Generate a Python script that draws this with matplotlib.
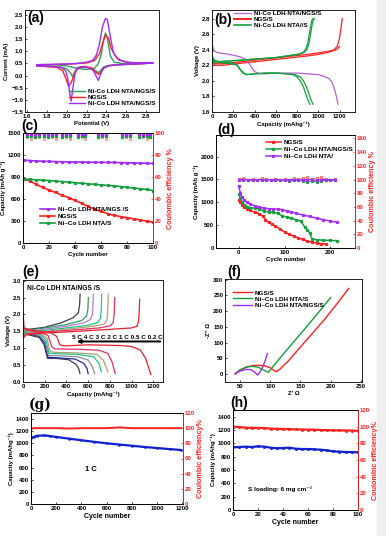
import matplotlib
matplotlib.use("Agg")
import matplotlib.pyplot as plt
from matplotlib.patches import Rectangle

plt.rcParams['font.family'] = ['Liberation Sans', 'DejaVu Sans']
plt.rcParams['font.weight'] = 'bold'
plt.rcParams['axes.labelweight'] = 'bold'
plt.rcParams['font.size'] = 4.3
plt.rcParams['axes.linewidth'] = 0.6
plt.rcParams['xtick.direction'] = 'in'
plt.rcParams['ytick.direction'] = 'in'
plt.rcParams['xtick.major.size'] = 1.6
plt.rcParams['ytick.major.size'] = 1.6
plt.rcParams['xtick.major.width'] = 0.5
plt.rcParams['ytick.major.width'] = 0.5
plt.rcParams['xtick.major.pad'] = 1.5
plt.rcParams['ytick.major.pad'] = 1.2
plt.rcParams['axes.labelpad'] = 1.5

PURPLE = '#a02cff'
RED = '#ff2020'
GREEN = '#14a03c'

# ---- (a) CV curves
cv_purple_v = [1.70, 1.80, 1.90, 2.00, 2.10, 2.20, 2.26, 2.30, 2.33, 2.36, 2.39, 2.41, 2.44, 2.47, 2.52, 2.60, 2.70, 2.80, 2.87,
               2.80, 2.70, 2.60, 2.50, 2.42, 2.37, 2.34, 2.32, 2.30, 2.27, 2.22, 2.15, 2.10, 2.08, 2.06, 2.045, 2.03, 2.01, 1.99, 1.95, 1.90, 1.80, 1.70]
cv_purple_i = [0.45, 0.46, 0.47, 0.48, 0.50, 0.55, 0.62, 0.85, 1.30, 2.00, 2.35, 2.30, 1.60, 0.95, 0.65, 0.55, 0.52, 0.52, 0.53,
               0.50, 0.48, 0.46, 0.44, 0.40, 0.30, 0.05, -0.20, -0.05, 0.20, 0.32, 0.36, 0.30, 0.00, -0.60, -1.05, -0.70, -0.10, 0.20, 0.33, 0.36, 0.38, 0.40]
cv_red_v = [1.70, 1.80, 1.90, 2.00, 2.10, 2.20, 2.28, 2.33, 2.36, 2.39, 2.42, 2.45, 2.50, 2.55, 2.62, 2.70, 2.80, 2.87,
            2.80, 2.70, 2.60, 2.50, 2.42, 2.37, 2.34, 2.32, 2.29, 2.25, 2.18, 2.12, 2.08, 2.05, 2.02, 1.99, 1.96, 1.90, 1.80, 1.70]
cv_red_i = [0.42, 0.44, 0.46, 0.47, 0.49, 0.52, 0.62, 0.90, 1.30, 1.65, 1.55, 1.10, 0.75, 0.62, 0.55, 0.52, 0.52, 0.53,
            0.50, 0.48, 0.46, 0.45, 0.40, 0.30, 0.12, 0.05, 0.15, 0.32, 0.38, 0.34, 0.10, -0.25, -0.45, -0.10, 0.20, 0.34, 0.37, 0.40]
cv_green_v = [1.70, 1.80, 1.90, 2.00, 2.05, 2.10, 2.20, 2.28, 2.32, 2.35, 2.37, 2.39, 2.41, 2.44, 2.48, 2.55, 2.70, 2.80, 2.87,
              2.80, 2.70, 2.60, 2.50, 2.42, 2.37, 2.34, 2.32, 2.29, 2.25, 2.18, 2.12, 2.08, 2.06, 2.04, 2.00, 1.95, 1.90, 1.80, 1.70]
cv_green_i = [0.43, 0.44, 0.44, 0.40, 0.35, 0.30, 0.25, 0.30, 0.50, 0.90, 1.45, 1.75, 1.55, 0.80, 0.55, 0.50, 0.50, 0.51, 0.52,
              0.50, 0.48, 0.46, 0.44, 0.42, 0.35, 0.20, 0.12, 0.20, 0.30, 0.36, 0.32, 0.15, -0.05, 0.10, 0.28, 0.34, 0.36, 0.38, 0.40]

# ---- (b) charge / discharge
b_purple_cap = [0, 5, 20, 60, 120, 200, 260, 300, 330, 360, 400, 450, 500, 600, 700, 800, 900, 1000, 1050, 1100, 1130, 1150, 1170, 1185]
b_purple_v = [2.72, 2.45, 2.38, 2.36, 2.35, 2.33, 2.31, 2.29, 2.26, 2.20, 2.12, 2.09, 2.09, 2.10, 2.10, 2.10, 2.09, 2.08, 2.06, 2.03, 1.98, 1.90, 1.80, 1.70]
b_green_dis1_cap = [0, 5, 30, 100, 180, 230, 260, 290, 320, 400, 500, 600, 700, 760, 800, 830, 860, 880, 900, 920]
b_green_dis1_v = [2.50, 2.30, 2.26, 2.24, 2.23, 2.21, 2.15, 2.10, 2.08, 2.09, 2.10, 2.10, 2.09, 2.08, 2.05, 2.00, 1.92, 1.84, 1.76, 1.70]
b_green_dis2_cap = [0, 5, 30, 100, 180, 240, 270, 300, 330, 400, 500, 600, 700, 780, 830, 860, 890, 910, 930, 950]
b_green_dis2_v = [2.45, 2.28, 2.25, 2.23, 2.22, 2.20, 2.14, 2.10, 2.08, 2.09, 2.10, 2.10, 2.09, 2.08, 2.05, 2.00, 1.92, 1.84, 1.76, 1.70]
b_green_ch_cap = [0, 20, 100, 200, 300, 400, 500, 600, 700, 800, 850, 880, 900, 915, 930, 940, 950]
b_green_ch_v = [2.22, 2.24, 2.25, 2.26, 2.27, 2.28, 2.29, 2.30, 2.32, 2.34, 2.36, 2.40, 2.48, 2.60, 2.72, 2.78, 2.80]
b_red1_cap = [0, 30, 100, 300, 500, 700, 900, 1000, 1100, 1150, 1180, 1200, 1210, 1220, 1225]
b_red1_v = [2.30, 2.22, 2.22, 2.25, 2.28, 2.31, 2.34, 2.36, 2.38, 2.40, 2.45, 2.55, 2.65, 2.75, 2.80]
b_red2_cap = [0, 30, 100, 300, 500, 700, 900, 1000, 1100, 1170, 1200]
b_red2_v = [2.24, 2.20, 2.20, 2.23, 2.26, 2.29, 2.32, 2.34, 2.37, 2.40, 2.44]

# ---- (c) cycling 0.5 C
c_cycles = [1, 5, 10, 15, 20, 25, 30, 35, 40, 45, 50, 55, 60, 65, 70, 75, 80, 85, 90, 95, 100]
c_purple = [1130, 1125, 1118, 1115, 1112, 1110, 1108, 1106, 1105, 1104, 1102, 1101, 1100, 1099, 1098, 1096, 1094, 1092, 1090, 1087, 1085]
c_green = [870, 868, 862, 858, 852, 845, 838, 830, 822, 815, 808, 800, 793, 785, 778, 770, 760, 750, 740, 730, 715]
c_red = [870, 850, 800, 760, 720, 690, 650, 620, 580, 540, 500, 460, 430, 400, 380, 360, 345, 330, 315, 300, 285]
c_ce_cycles = [3, 6, 9, 12, 16, 19, 22, 25, 30, 33, 36, 42, 45, 48, 58, 61, 64, 76, 79, 82, 89, 92, 95, 98]
c_ce_purple = [99, 99, 98, 99, 99, 98, 99, 99, 98, 99, 99, 98, 99, 99, 99, 98, 99, 99, 98, 99, 99, 98, 99, 99]
c_ce_red = [96, 95, 96, 96, 95, 96, 96, 95, 96, 96, 95, 96, 96, 95, 96, 96, 95, 96, 96, 95, 96, 96, 95, 96]
c_ce_green = [97, 97, 96, 97, 97, 96, 97, 97, 96, 97, 97, 96, 97, 97, 96, 97, 97, 96, 97, 97, 96, 97, 97, 96]

# ---- (d) rate cycling
d_cyc_purple = [0, 3, 7, 12, 18, 25, 35, 45, 55, 65, 75, 85, 95, 105, 115, 125, 140, 155, 170, 185, 200, 215]
d_cap_purple = [1360, 1200, 1110, 1050, 1000, 960, 920, 890, 870, 860, 855, 850, 840, 810, 790, 760, 720, 690, 650, 620, 590, 560]
d_cyc_green = [0, 3, 7, 12, 18, 25, 35, 45, 55, 65, 75, 85, 95, 105, 115, 125, 135, 145, 150, 155, 160, 170, 185, 200, 215]
d_cap_green = [1180, 1100, 1000, 950, 900, 880, 870, 860, 800, 790, 780, 760, 700, 680, 650, 620, 590, 450, 400, 330, 200, 180, 170, 165, 160]
d_cyc_red = [0, 3, 7, 12, 18, 25, 35, 45, 52, 58, 65, 72, 80, 90, 100, 110, 120, 130, 140, 150, 160, 170, 180, 190]
d_cap_red = [1050, 1000, 950, 900, 850, 820, 780, 750, 700, 620, 560, 520, 480, 410, 350, 300, 260, 220, 190, 150, 130, 110, 95, 90]
d_ce_cyc = [0, 10, 20, 30, 40, 50, 60, 70, 80, 90, 100, 110, 120, 130, 140, 150, 160, 170, 180, 190, 200, 210]
d_ce_red = [101, 102, 100, 101, 100, 102, 101, 100, 101, 100, 101, 100, 102, 101, 102, 103, 101, 102, 103, 101, 100, 101]
d_ce_green = [99, 100, 99, 99, 100, 99, 99, 100, 99, 99, 99, 98, 99, 99, 98, 97, 98, 97, 98, 99, 99, 99]
d_ce_purple = [100, 100, 100, 99, 100, 100, 99, 100, 100, 100, 99, 100, 100, 99, 100, 100, 100, 99, 100, 100, 100, 100]

# ---- (e) rate profiles of Ni-Co LDH NTA/NGS/S
e_rates = ['5 C', '4 C', '3 C', '2 C', '1 C', '0.5 C', '0.2 C']
e_charge_colors = ['#3c3c52', '#2e9e5e', '#b57be0', '#22c48a', '#b0a070', '#e0306a', '#e8202a']
e_dis_colors = ['#3c3c52', '#1e2f9a', '#8c8ca0', '#22c48a', '#b0a070', '#e0306a', '#e8202a']
e_dis_cap = [
    [0, 20, 150, 195, 225, 300, 420, 490, 515, 525],
    [0, 20, 150, 200, 230, 300, 480, 560, 590, 600],
    [0, 20, 150, 205, 235, 300, 500, 600, 640, 660],
    [0, 20, 150, 210, 240, 290, 500, 650, 700, 722],
    [0, 20, 150, 220, 250, 290, 500, 680, 740, 782],
    [0, 20, 150, 230, 265, 290, 500, 700, 780, 820, 850],
    [0, 10, 100, 250, 310, 340, 380, 600, 900, 1000, 1080, 1130, 1160, 1178],
]
e_dis_v = [
    [1.52, 1.42, 1.32, 1.10, 0.70, 0.70, 0.66, 0.52, 0.38, 0.25],
    [1.55, 1.45, 1.35, 1.15, 0.73, 0.72, 0.68, 0.55, 0.40, 0.25],
    [1.57, 1.48, 1.38, 1.20, 0.78, 0.78, 0.75, 0.65, 0.45, 0.25],
    [1.58, 1.50, 1.42, 1.25, 0.85, 0.84, 0.82, 0.75, 0.55, 0.30],
    [1.60, 1.52, 1.45, 1.30, 0.90, 0.88, 0.86, 0.82, 0.65, 0.30],
    [1.65, 1.55, 1.47, 1.38, 1.05, 0.98, 0.97, 0.94, 0.85, 0.60, 0.25],
    [2.10, 1.60, 1.52, 1.47, 1.35, 1.10, 1.07, 1.10, 1.08, 1.05, 0.95, 0.70, 0.40, 0.22],
]
e_ch_cap = [
    [0, 30, 200, 350, 460, 510, 522, 526],
    [0, 30, 200, 400, 540, 585, 598, 602],
    [0, 30, 200, 400, 560, 620, 640, 645, 648],
    [0, 30, 200, 400, 600, 690, 715, 722, 725],
    [0, 30, 200, 450, 650, 750, 775, 782, 786],
    [0, 30, 200, 500, 700, 800, 830, 840, 845],
    [0, 30, 200, 500, 800, 1000, 1050, 1065, 1071, 1075],
]
e_ch_v = [
    [1.37, 1.55, 1.62, 1.75, 1.90, 2.05, 2.30, 2.60],
    [1.35, 1.52, 1.60, 1.70, 1.82, 1.95, 2.15, 2.50],
    [1.33, 1.50, 1.56, 1.65, 1.75, 1.85, 2.00, 2.30, 2.60],
    [1.32, 1.47, 1.53, 1.60, 1.68, 1.76, 1.90, 2.20, 2.60],
    [1.30, 1.45, 1.50, 1.58, 1.65, 1.72, 1.85, 2.20, 2.60],
    [1.30, 1.42, 1.48, 1.55, 1.60, 1.66, 1.75, 2.00, 2.50],
    [1.30, 1.40, 1.45, 1.50, 1.56, 1.60, 1.65, 1.80, 2.10, 2.45],
]

# ---- (f) EIS
f_red_x = [42, 50, 60, 70, 80, 90, 100, 106, 110, 115, 130, 150, 170, 190, 210, 230]
f_red_y = [0, 12, 22, 27, 28, 27, 20, 12, 8, 14, 42, 86, 130, 174, 222, 272]
f_green_x = [42, 50, 60, 70, 80, 90, 97, 105, 120, 140, 160, 180, 200]
f_green_y = [2, 14, 22, 25, 22, 12, 6, 25, 60, 105, 150, 196, 243]
f_purple_x = [42, 50, 60, 68, 75, 79, 84, 88, 92, 95]
f_purple_y = [2, 10, 15, 14, 5, -3, 10, 25, 45, 65]

# ---- (g) long cycling 1 C
g_cycles = [0, 20, 50, 100, 150, 200, 300, 400, 500, 600, 700, 800, 900, 1000, 1100, 1190]
g_cap = [1085, 1105, 1125, 1130, 1120, 1105, 1078, 1050, 1025, 1000, 980, 960, 940, 922, 905, 890]
g_ce = [99, 100, 100, 100, 100, 100, 99.5, 100, 100, 100, 101, 100, 100, 100, 100, 100]

# ---- (h) high loading
h_cycles = [0, 5, 10, 15, 20, 25, 30, 35, 40, 45, 50, 55, 60, 65, 70, 75, 80, 85, 90, 95, 100]
h_cap = [940, 945, 950, 945, 955, 950, 935, 925, 930, 935, 920, 915, 915, 910, 905, 895, 880, 875, 870, 868, 865]
h_ce = [100, 99.5, 98.8, 98.6, 98.4, 98.3, 97.6, 97.5, 97.2, 97.0, 96.8, 96.6, 96.4, 96.3, 96.0, 95.8, 95.6, 95.5, 95.4, 95.3, 95.0]

W, H = 386, 536
fig = plt.figure(figsize=(W / 100, H / 100), dpi=100)
fig.patches.append(Rectangle((377 / W, 0), 9 / W, 1, transform=fig.transFigure, color='#efefef', zorder=0))


def box(x0, y0, x1, y1):
    return fig.add_axes([x0 / W, 1 - y1 / H, (x1 - x0) / W, (y1 - y0) / H])


def red_right(ax, lim, ticks, label):
    r = ax.twinx()
    r.set_ylim(*lim)
    r.set_yticks(ticks)
    r.tick_params(axis='y', colors=RED)
    r.spines['right'].set_color(RED)
    r.set_ylabel(label, color=RED, fontsize=5.2)
    return r


def panel(x, y, s, **kw):
    fig.text(x / W, 1 - y / H, s, fontsize=10, fontweight='bold', va='top', ha='left', **kw)


# (a)
ax = box(25, 10, 159, 112)
ax.plot(cv_green_v, cv_green_i, color='#2ca05a', lw=1.0, label='Ni-Co LDH NTA/NGS/S')
ax.plot(cv_red_v, cv_red_i, color=RED, lw=1.0, label='NGS/S')
ax.plot(cv_purple_v, cv_purple_i, color=PURPLE, lw=1.0, label='Ni-Co LDH NTA/NGS/S')
ax.set_xlim(1.58, 2.93)
ax.set_ylim(-1.5, 2.7)
ax.set_xticks([1.6, 1.8, 2.0, 2.2, 2.4, 2.6, 2.8])
ax.set_yticks([-1.5, -1.0, -0.5, 0.0, 0.5, 1.0, 1.5, 2.0, 2.5])
ax.set_xlabel('Potential (V)')
ax.set_ylabel('Current (mA)')
ax.legend(loc='lower right', bbox_to_anchor=(1.0, 0.02), frameon=False, fontsize=4.6,
          handlelength=2.6, labelspacing=0.1, borderaxespad=0.2, handletextpad=0.4)
panel(27, 11, '(a)')

# (b)
ax = box(212, 10, 355, 112)
ax.plot(b_red1_cap, b_red1_v, color=RED, lw=0.9)
ax.plot(b_red2_cap, b_red2_v, color=RED, lw=0.9)
ax.plot(b_purple_cap, b_purple_v, color='#b060e0', lw=0.9)
ax.plot(b_green_dis1_cap, b_green_dis1_v, color=GREEN, lw=0.9)
ax.plot(b_green_dis2_cap, b_green_dis2_v, color=GREEN, lw=0.9)
ax.plot(b_green_ch_cap, b_green_ch_v, color=GREEN, lw=0.9)
ax.plot([c + 12 for c in b_green_ch_cap], b_green_ch_v, color=GREEN, lw=0.9)
ax.plot([], [], color='#b060e0', lw=0.9, label='Ni-Co LDH NTA/NGS/S')
ax.plot([], [], color=RED, lw=1.4, label='NGS/S')
ax.plot([], [], color=GREEN, lw=1.2, label='Ni-Co LDH NTA//S')
ax.set_xlim(0, 1345)
ax.set_ylim(1.6, 2.91)
ax.set_xticks([0, 200, 400, 600, 800, 1000, 1200])
ax.set_yticks([1.6, 1.8, 2.0, 2.2, 2.4, 2.6, 2.8])
ax.set_xlabel('Capacity (mAhg⁻¹)')
ax.set_ylabel('Voltage (V)')
ax.legend(loc='upper left', bbox_to_anchor=(0.13, 1.03), frameon=False, fontsize=4.6,
          handlelength=2.6, labelspacing=0.05, borderaxespad=0.2, handletextpad=0.4)
panel(214, 13, '(b)')

# (c)
ax = box(23, 133, 153, 243)
ax.plot(c_cycles, c_purple, color=PURPLE, lw=1.2, marker='s', ms=1.3, label='Ni\u2013Co LDH NTA/NGS /S')
ax.plot(c_cycles, c_red, color=RED, lw=1.2, marker='s', ms=1.3, label='NGS/S')
ax.plot(c_cycles, c_green, color=GREEN, lw=1.2, marker='s', ms=1.3, label='Ni\u2013Co LDH NTA/S')
ax.set_xlim(0, 100)
ax.set_ylim(0, 1500)
ax.set_yticks([0, 300, 600, 900, 1200, 1500])
ax.set_xticks([0, 20, 40, 60, 80, 100])
ax.set_xlabel('Cycle number')
ax.set_ylabel('Capacity (mAh g⁻¹)')
ax.legend(loc='lower left', bbox_to_anchor=(0.1, 0.12), frameon=False, fontsize=4.6,
          handlelength=2.4, labelspacing=0.2, borderaxespad=0.2, handletextpad=0.4)
r = red_right(ax, (0, 100), [0, 20, 40, 60, 80, 100], 'Coulombic efficiency %')
r.plot(c_ce_cycles, c_ce_red, ls='none', marker='o', ms=1.4, mfc='none', mec=RED, mew=0.4)
r.plot(c_ce_cycles, c_ce_green, ls='none', marker='s', ms=1.4, color=GREEN)
r.plot(c_ce_cycles, c_ce_purple, ls='none', marker='s', ms=1.4, color=PURPLE)
panel(21, 119, '(c)')

# (d)
ax = box(216, 135, 355, 248)
ax.plot(d_cyc_red, d_cap_red, color=RED, lw=1.1, marker='s', ms=1.3, label='NGS/S')
ax.plot(d_cyc_green, d_cap_green, color=GREEN, lw=1.1, marker='s', ms=1.3, label='Ni\u2013Co LDH NTA/NGS/S')
ax.plot(d_cyc_purple, d_cap_purple, color=PURPLE, lw=1.1, marker='s', ms=1.3, label='Ni\u2013Co LDH NTA/')
ax.set_xlim(-50, 254)
ax.set_ylim(0, 2470)
ax.set_yticks([0, 500, 1000, 1500, 2000])
ax.set_xticks([0, 100, 200])
ax.set_xlabel('Cycle number')
ax.set_ylabel('Capacity (mAh g⁻¹)')
ax.legend(loc='upper left', bbox_to_anchor=(0.33, 0.99), frameon=False, fontsize=4.6,
          handlelength=2.4, labelspacing=0.2, borderaxespad=0.2, handletextpad=0.4)
r = red_right(ax, (0, 165), [0, 20, 40, 60, 80, 100, 120, 140, 160], 'Coulombic efficiency %')
r.plot(d_ce_cyc, d_ce_green, color=GREEN, lw=0.8, marker='s', ms=1.2)
r.plot(d_ce_cyc, d_ce_red, color='#ff9090', lw=0.5, marker='o', ms=1.8, mfc='none', mec=RED, mew=0.4)
r.plot(d_ce_cyc, d_ce_purple, color=PURPLE, lw=0.8, marker='s', ms=1.2)
panel(217, 123, '(d)')

# (e)
ax = box(23, 280, 163, 382)
for k in range(len(e_rates)):
    ax.plot(e_dis_cap[k], e_dis_v[k], color=e_dis_colors[k], lw=0.9)
    ax.plot(e_ch_cap[k], e_ch_v[k], color=e_charge_colors[k], lw=0.9)
ax.annotate('', xy=(470, 1.2), xytext=(1290, 1.2),
            arrowprops=dict(arrowstyle='-|>', color='black', lw=1.4, mutation_scale=5))
ax.text(1285, 1.24, ' '.join(e_rates), ha='right', va='bottom', fontsize=4.6)
ax.text(40, 2.78, 'Ni-Co LDH NTA/NGS /S', fontsize=4.8, va='center')
ax.set_xlim(0, 1290)
ax.set_ylim(0, 3.02)
ax.set_yticks([0, 0.5, 1.0, 1.5, 2.0, 2.5, 3.0])
ax.set_xticks([0, 200, 400, 600, 800, 1000, 1200])
ax.set_xlabel('Capacity (mAhg⁻¹)')
ax.set_ylabel('Voltage (V)')
panel(22, 265, '(e)')

# (f)
ax = box(225, 279, 362, 382)
ax.plot(f_red_x, f_red_y, color=RED, lw=1.0, label='NGS/S')
ax.plot(f_green_x, f_green_y, color=GREEN, lw=1.0, label='Ni\u2013Co LDH NTA/S')
ax.plot(f_purple_x, f_purple_y, color=PURPLE, lw=1.0, label='Ni\u2013Co LDH NTA/NGS/S')
ax.set_xlim(25, 252)
ax.set_ylim(-25, 302)
ax.set_xticks([50, 100, 150, 200, 250])
ax.set_yticks([0, 50, 100, 150, 200, 250, 300])
ax.set_xlabel("Z' \u03a9")
ax.set_ylabel("-Z'' \u03a9")
ax.legend(loc='upper left', bbox_to_anchor=(0.03, 0.93), frameon=False, fontsize=4.6,
          handlelength=3.0, labelspacing=0.1, borderaxespad=0.2, handletextpad=0.4)
panel(227, 265, '(f)')

# (g)
ax = box(31, 413, 183, 504)
ax.plot(g_cycles, g_cap, color='#1020d0', lw=1.6, marker='s', ms=0.8)
ax.text(430, 570, '1 C', fontsize=5.5, va='center')
ax.set_xlim(0, 1205)
ax.set_ylim(0, 1500)
ax.set_yticks([0, 200, 400, 600, 800, 1000, 1200, 1400])
ax.set_xticks([0, 200, 400, 600, 800, 1000, 1200])
ax.set_xlabel('Cycle number', fontsize=5)
ax.set_ylabel('Capacity (mAhg⁻¹)')
r = red_right(ax, (0, 120), [0, 20, 40, 60, 80, 100, 120], 'Coulombic efficiency%')
r.plot(g_cycles, g_ce, color=RED, lw=1.4)
panel(29, 398, '(g)', family='DejaVu Serif')

# (h)
ax = box(233, 410, 358, 510)
ax.plot(h_cycles, h_cap, color='#1020d0', lw=1.6, marker='s', ms=1.0)
ax.text(12, 315, 'S loading: 6 mg cm⁻³', fontsize=4.6, va='center')
ax.set_xlim(0, 100)
ax.set_ylim(0, 1500)
ax.set_yticks([0, 200, 400, 600, 800, 1000, 1200, 1400])
ax.set_xticks([0, 20, 40, 60, 80, 100])
ax.set_xlabel('Cycle number', fontsize=5)
ax.set_ylabel('Capacity (mAhg⁻¹)')
r = red_right(ax, (0, 120), [0, 20, 40, 60, 80, 100, 120], 'Coulombic efficiency%')
r.plot(h_cycles, h_ce, color=RED, lw=1.6, marker='s', ms=1.0)
panel(230, 396, '(h)')

fig.savefig('out.png', dpi=100)
